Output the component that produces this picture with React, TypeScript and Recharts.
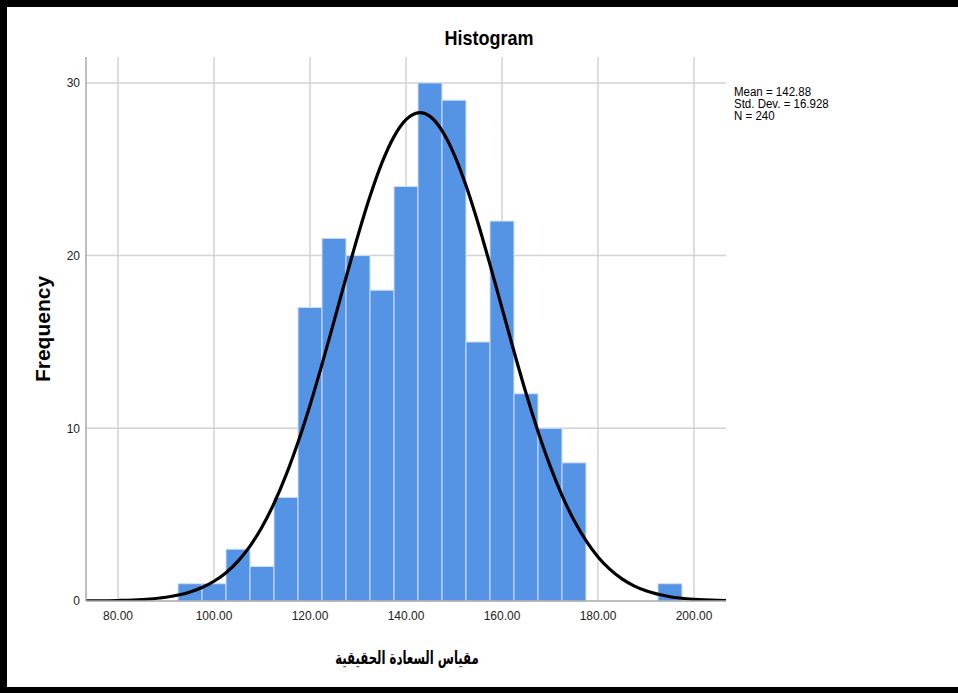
import React from "react";
import { ComposedChart, Line, XAxis, YAxis, CartesianGrid, ReferenceArea, Label } from "recharts";

const binCenters = [95, 100, 105, 110, 115, 120, 125, 130, 135, 140, 145, 150, 155, 160, 165, 170, 175, 195];
const binCounts = [1, 1, 3, 2, 6, 17, 21, 20, 18, 24, 30, 29, 15, 22, 12, 10, 8, 1];
const BIN_WIDTH = 5;

const curveX = [73.33, 75, 80, 85, 90, 95, 97.5, 100, 102.5, 105, 107.5, 110, 112.5, 115, 117.5, 120, 122.5, 125, 127.5, 130, 132.5, 135, 137.5, 140, 142.88, 145, 147.5, 150, 152.5, 155, 157.5, 160, 162.5, 165, 167.5, 170, 172.5, 175, 177.5, 180, 182.5, 185, 187.5, 190, 195, 200, 205, 206.67];
const curveY = [0.006, 0.009, 0.029, 0.082, 0.215, 0.518, 0.778, 1.143, 1.64, 2.313, 3.18, 4.288, 5.65, 7.285, 9.19, 11.34, 13.7, 16.19, 18.72, 21.17, 23.43, 25.38, 26.89, 27.87, 28.28, 28.06, 27.24, 25.88, 24.06, 21.89, 19.48, 16.96, 14.45, 12.04, 9.82, 7.84, 6.12, 4.67, 3.49, 2.55, 1.83, 1.28, 0.877, 0.588, 0.247, 0.095, 0.034, 0.025];

const xTicks = [80, 100, 120, 140, 160, 180, 200];
const yTicks = [0, 10, 20, 30];
const X_DOMAIN: [number, number] = [73.33, 206.67];
const Y_DOMAIN: [number, number] = [0, 31.5];
const statsLines = ["Mean = 142.88", "Std. Dev. = 16.928", "N = 240"];
const title = "Histogram";
const yTitle = "Frequency";
const xTitle = "مقياس السعادة الحقيقية";

const curveData = curveX.map((x, i) => ({ x, y: curveY[i] }));

const FONT = "'Liberation Sans', Arial, sans-serif";

function applyScale(axis: any, v: number, fallback: () => number): number {
  const s = axis && axis.scale;
  if (typeof s === "function") return s(v);
  if (s && typeof s.map === "function") {
    const r = s.map(v);
    if (typeof r === "number") return r;
  }
  return fallback();
}

export default function App() {
  return (
    <div style={{ position: "fixed", left: 0, top: 0, width: 958, height: 693, background: "#fff", overflow: "hidden" }}>
      <div style={{ position: "absolute", left: 0, top: 0, width: 958, height: 7, background: "#000" }} />
      <div style={{ position: "absolute", left: 0, top: 0, width: 7, height: 693, background: "#000" }} />
      <div style={{ position: "absolute", left: 0, top: 687, width: 958, height: 6, background: "#000" }} />
      <div style={{ position: "absolute", left: 0, top: 0 }}>
        <ComposedChart width={958} height={693} data={curveData} margin={{ top: 57, right: 232, bottom: 62, left: 36 }}>
          <CartesianGrid
            stroke="#d2d2d2"
            strokeWidth={1.5}
            horizontalCoordinatesGenerator={(p: any) =>
              yTicks.slice(1).map((t) =>
                applyScale(p.yAxis, t, () => p.offset.top + p.offset.height * (1 - (t - Y_DOMAIN[0]) / (Y_DOMAIN[1] - Y_DOMAIN[0])))
              )
            }
            verticalCoordinatesGenerator={(p: any) =>
              xTicks.map((t) =>
                applyScale(p.xAxis, t, () => p.offset.left + p.offset.width * ((t - X_DOMAIN[0]) / (X_DOMAIN[1] - X_DOMAIN[0])))
              )
            }
          />
          <XAxis
            type="number"
            dataKey="x"
            domain={X_DOMAIN}
            ticks={xTicks}
            allowDataOverflow
            tickFormatter={(v: number) => v.toFixed(2)}
            tickLine={false}
            axisLine={{ stroke: "#a8a8a8", strokeWidth: 1.5 }}
            tick={{ fill: "#222", fontSize: 12, fontFamily: FONT }}
            tickMargin={4}
            height={30}
          >
            <Label
              content={(props: any) => {
                const vb = props.viewBox;
                const cx = vb.x + vb.width / 2 + 1;
                const cy = vb.y + 57;
                return (
                  <text x={cx} y={cy} transform={`translate(${cx} ${cy}) scale(0.65 1) translate(${-cx} ${-cy})`} textAnchor="middle" dominantBaseline="central" fontSize={18} fontWeight="bold" fontFamily="'DejaVu Sans', sans-serif" fill="#000">
                    {xTitle}
                  </text>
                );
              }}
            />
          </XAxis>
          <YAxis
            type="number"
            domain={Y_DOMAIN}
            ticks={yTicks}
            allowDataOverflow
            tickLine={false}
            axisLine={{ stroke: "#a8a8a8", strokeWidth: 1.5 }}
            tick={{ fill: "#222", fontSize: 12, fontFamily: FONT }}
            tickMargin={0}
            width={50}
          >
            <Label
              content={(props: any) => {
                const vb = props.viewBox;
                const cx = vb.x + 6;
                const cy = vb.y + vb.height / 2;
                return (
                  <text x={cx} y={cy} transform={`rotate(-90 ${cx} ${cy})`} textAnchor="middle" dominantBaseline="central" fontSize={21} fontWeight="bold" fontFamily={FONT} fill="#000">
                    {yTitle}
                  </text>
                );
              }}
            />
          </YAxis>
          {binCenters.map((c, i) => (
            <ReferenceArea
              key={c}
              x1={c - BIN_WIDTH / 2}
              x2={c + BIN_WIDTH / 2}
              y1={0}
              y2={binCounts[i]}
              fill="#5594e4"
              fillOpacity={1}
              stroke="#cfe0f7"
              strokeWidth={1}
              ifOverflow="visible"
            />
          ))}
          <Line type="monotone" dataKey="y" stroke="#000" strokeWidth={3.2} dot={false} activeDot={false} isAnimationActive={false} />
        </ComposedChart>
      </div>
      <div style={{ position: "absolute", left: 489, top: 39, transform: "translate(-50%, -50%) scaleY(1.15)", fontFamily: FONT, fontWeight: "bold", fontSize: 18, color: "#000", whiteSpace: "nowrap" }}>
        {title}
      </div>
      <div style={{ position: "absolute", left: 734, top: 86, transform: "scaleY(1.1)", transformOrigin: "top left", fontFamily: FONT, fontSize: 11.5, lineHeight: "11px", color: "#000" }}>
        {statsLines.map((s) => (
          <div key={s} style={{ whiteSpace: "nowrap" }}>{s}</div>
        ))}
      </div>
    </div>
  );
}
